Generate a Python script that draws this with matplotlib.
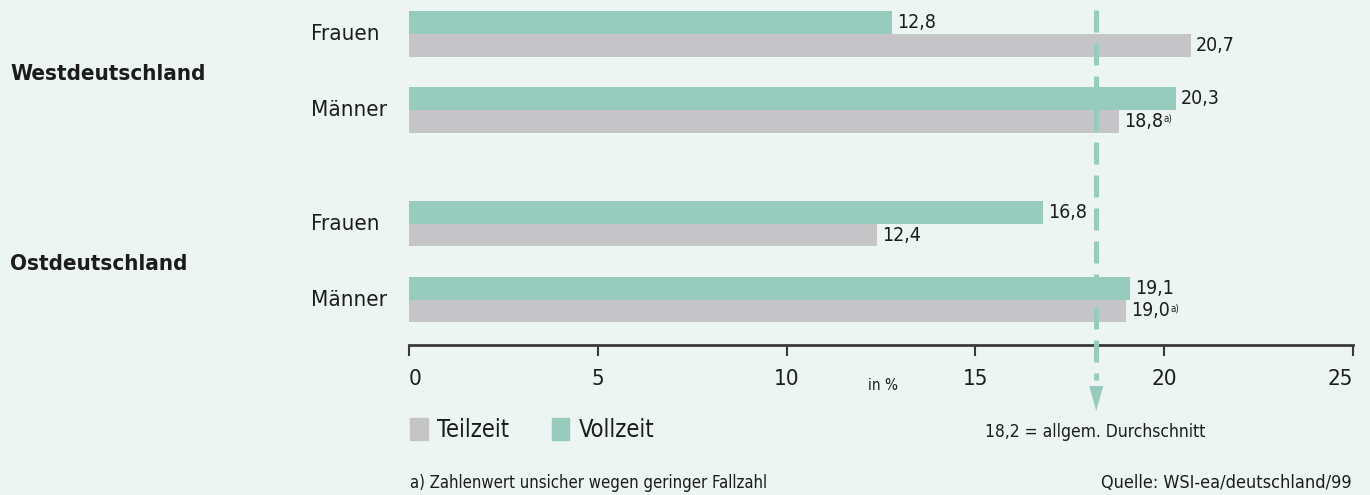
import matplotlib.pyplot as plt
import matplotlib.transforms as mtransforms
from matplotlib.patches import Patch

# Daten
regionen = ["Westdeutschland", "Ostdeutschland"]
gruppen = ["Frauen", "Männer", "Frauen", "Männer"]
vollzeit = [12.8, 20.3, 16.8, 19.1]
teilzeit = [20.7, 18.8, 12.4, 19.0]
teilzeit_unsicher = [False, True, False, True]
durchschnitt = 18.2
x_ticks = [0, 5, 10, 15, 20, 25]

BG = "#ecf5f1"
TEAL = "#97cbbd"
GRAU = "#c5c5c7"
TEXT = "#1c1c1e"
ACHSE = "#3a3a3a"

plt.rcParams["font.family"] = ["DejaVu Sans"]
plt.rcParams["font.stretch"] = "condensed"
plt.rcParams["text.color"] = TEXT

W, H = 1370, 495
fig = plt.figure(figsize=(W / 100, H / 100), dpi=100, facecolor=BG)


def fx(x):
    return x / W


def fy(y):
    return 1 - y / H


ax = fig.add_axes([fx(409), fy(345), fx(1353) - fx(409), fy(0) - fy(345)])
ax.set_facecolor(BG)

pos = [0, 1, 2.5, 3.5]
h = 0.3
y_voll = [p - h / 2 for p in pos]
y_teil = [p + h / 2 for p in pos]
ax.barh(y_voll, vollzeit, height=h, color=TEAL)
ax.barh(y_teil, teilzeit, height=h, color=GRAU)
ax.set_xlim(0, 25)
ax.set_ylim(4.1, -0.45)


def fmt(v):
    return f"{v:.1f}".replace(".", ",")


for y, v in zip(y_voll, vollzeit):
    ax.text(v + 0.13, y, fmt(v), va="center", ha="left", fontsize=14)
for y, v, u in zip(y_teil, teilzeit, teilzeit_unsicher):
    t = ax.text(v + 0.13, y, fmt(v), va="center", ha="left", fontsize=14)
    if u:
        ax.annotate("a)", xy=(1, 0.9), xycoords=t, xytext=(0.5, 0),
                    textcoords="offset points", va="top", ha="left", fontsize=7)

# Beschriftungen links
tr_lab = mtransforms.blended_transform_factory(fig.transFigure, ax.transData)
for p, g in zip(pos, gruppen):
    ax.text(fx(311), p, g, transform=tr_lab, ha="left", va="center", fontsize=16)
for i, r in enumerate(regionen):
    ym = (pos[2 * i] + pos[2 * i + 1]) / 2
    ax.text(fx(10), ym + 0.03, r, transform=tr_lab, ha="left", va="center",
            fontsize=16, fontweight="bold")

# Achsen
for s in ["left", "right", "top"]:
    ax.spines[s].set_visible(False)
ax.spines["bottom"].set_linewidth(2)
ax.spines["bottom"].set_color(ACHSE)
ax.set_yticks([])
ax.set_xticks(x_ticks)
ax.tick_params(axis="x", length=8, width=1.5, color=ACHSE, pad=9,
               labelsize=16, labelcolor=TEXT)
labels = ax.get_xticklabels()
labels[0].set_ha("left")
labels[-1].set_ha("right")

# Durchschnittslinie mit Pfeil
tr_avg = mtransforms.blended_transform_factory(ax.transData, fig.transFigure)
ax.plot([durchschnitt, durchschnitt], [fy(10), fy(380)], transform=tr_avg,
        color=TEAL, lw=3.6, dashes=(4.4, 2.2), clip_on=False, zorder=5)
dx = 7 / (944 / 25)
ax.fill([durchschnitt - dx, durchschnitt + dx, durchschnitt],
        [fy(386), fy(386), fy(411)], transform=tr_avg, color=TEAL,
        lw=0, clip_on=False, zorder=5)

fig.text(fx(985), fy(432), fmt(durchschnitt) + " = allgem. Durchschnitt",
         fontsize=12.5, va="center", ha="left")
fig.text(fx(868), fy(386), "in %", fontsize=11, va="center", ha="left")

# Legende
fig.legend(handles=[Patch(color=GRAU, label="Teilzeit"),
                    Patch(color=TEAL, label="Vollzeit")],
           loc="center left", bbox_to_anchor=(fx(410), fy(430)), ncol=2,
           frameon=False, fontsize=17, handlelength=0.75, handleheight=1.1,
           handletextpad=0.4, columnspacing=1.8, borderpad=0, borderaxespad=0)

fig.text(fx(410), fy(483), "a) Zahlenwert unsicher wegen geringer Fallzahl",
         fontsize=12, va="center", ha="left")
fig.text(fx(1352), fy(483), "Quelle: WSI-ea/deutschland/99",
         fontsize=13, va="center", ha="right")

fig.savefig("out.png", dpi=100, facecolor=BG)
